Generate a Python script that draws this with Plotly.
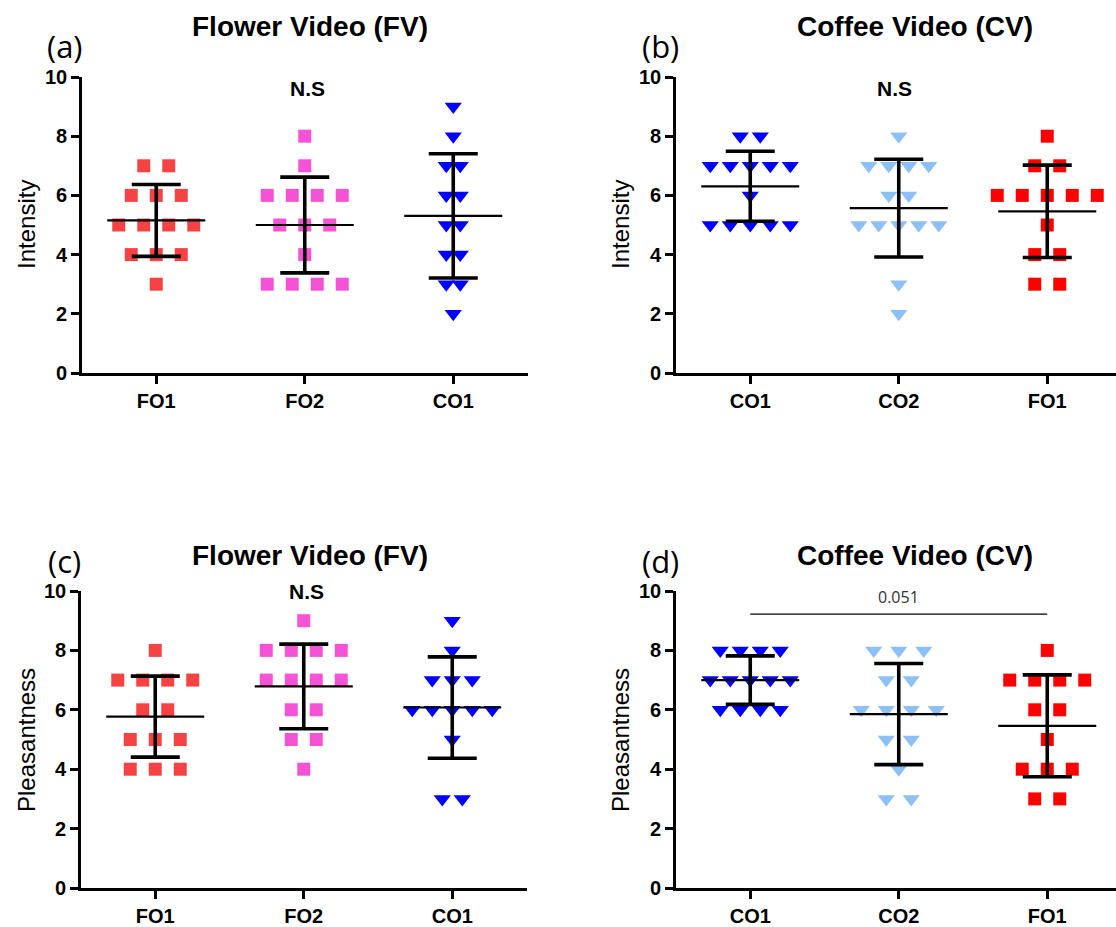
import numpy as np
import plotly.graph_objects as go

W, H = 1116, 927

# ---------------- data ----------------
categories_flower = ["FO1", "FO2", "CO1"]
categories_coffee = ["CO1", "CO2", "FO1"]
ytick_vals = [0, 2, 4, 6, 8, 10]

# (a) Flower video - intensity
a_FO1 = [7, 7, 6, 6, 6, 5, 5, 5, 5, 4, 4, 4, 3]
a_FO2 = [8, 7, 6, 6, 6, 6, 5, 5, 5, 4, 3, 3, 3, 3]
a_CO1 = [9, 8, 7, 7, 6, 6, 5, 5, 4, 4, 3, 3, 2]
# (b) Coffee video - intensity
b_CO1 = [8, 8, 7, 7, 7, 7, 7, 6, 5, 5, 5, 5, 5]
b_CO2 = [8, 7, 7, 7, 7, 6, 6, 5, 5, 5, 5, 5, 3, 2]
b_FO1 = [8, 7, 7, 6, 6, 6, 6, 6, 5, 4, 4, 3, 3]
# (c) Flower video - pleasantness
c_FO1 = [8, 7, 7, 7, 7, 6, 6, 5, 5, 5, 4, 4, 4]
c_FO2 = [9, 8, 8, 8, 8, 7, 7, 7, 7, 6, 6, 5, 5, 4]
c_CO1 = [9, 8, 7, 7, 7, 6, 6, 6, 6, 6, 5, 3, 3]
# (d) Coffee video - pleasantness
d_CO1 = [8, 8, 8, 8, 7, 7, 7, 7, 7, 6, 6, 6, 6]
d_CO2 = [8, 8, 8, 7, 7, 6, 6, 6, 6, 5, 5, 4, 3, 3]
d_FO1 = [8, 7, 7, 7, 7, 6, 6, 5, 4, 4, 4, 3, 3]

p_value_d = "0.051"

# ---------------- styles ----------------
RED_L = "#F54343"
MAG = "#F553D6"
BLUE = "#0000FF"
LBLUE = "#8DC1F5"
RED = "#FF0000"

PX_UNIT = 148.5  # pixels per category step
panels = {
    "a": dict(x0=82, x1=528, ytop=77, ybot=373),
    "b": dict(x0=676, x1=1116, ytop=77, ybot=373),
    "c": dict(x0=81, x1=527, ytop=591, ybot=888),
    "d": dict(x0=676, x1=1116, ytop=591, ybot=888),
}

groups = {
    "a": [(a_FO1, RED_L, "square", 25), (a_FO2, MAG, "square", 25), (a_CO1, BLUE, "triangle-down", 14)],
    "b": [(b_CO1, BLUE, "triangle-down", 20), (b_CO2, LBLUE, "triangle-down", 20), (b_FO1, RED, "square", 25)],
    "c": [(c_FO1, RED_L, "square", 25), (c_FO2, MAG, "square", 25), (c_CO1, BLUE, "triangle-down", 20)],
    "d": [(d_CO1, BLUE, "triangle-down", 20), (d_CO2, LBLUE, "triangle-down", 25), (d_FO1, RED, "square", 25)],
}
cats = {"a": categories_flower, "b": categories_coffee, "c": categories_flower, "d": categories_coffee}
ytitles = {"a": "Intensity", "b": "Intensity", "c": "Pleasantness", "d": "Pleasantness"}
titles = {"a": "Flower Video (FV)", "b": "Coffee Video (CV)", "c": "Flower Video (FV)", "d": "Coffee Video (CV)"}

fig = go.Figure()
AX = {"a": ("x", "y"), "b": ("x2", "y2"), "c": ("x3", "y3"), "d": ("x4", "y4")}


def swarm_x(values, center, spacing_px):
    vals = np.array(values, dtype=float)
    xs = np.zeros(len(vals))
    for v in np.unique(vals):
        idx = np.where(vals == v)[0]
        n = len(idx)
        offs = (np.arange(n) - (n - 1) / 2) * spacing_px / PX_UNIT
        xs[idx] = center + offs
    return xs


for key, glist in groups.items():
    xa, ya = AX[key]
    for i, (vals, col, sym, sp) in enumerate(glist):
        xs = swarm_x(vals, i, sp)
        fig.add_trace(go.Scatter(
            x=xs, y=vals, mode="markers", xaxis=xa, yaxis=ya,
            marker=dict(symbol=sym, color=col, size=13 if sym == "square" else 15,
                        line=dict(width=0)),
            showlegend=False, hoverinfo="skip"))
    for i, (vals, col, sym, sp) in enumerate(glist):
        m = float(np.mean(vals))
        s = float(np.std(vals, ddof=1))
        fig.add_trace(go.Scatter(
            x=[i - 0.33, i + 0.33], y=[m, m], mode="lines", xaxis=xa, yaxis=ya,
            line=dict(color="black", width=2.2), showlegend=False, hoverinfo="skip"))
        fig.add_trace(go.Scatter(
            x=[i, i, None, i - 0.165, i + 0.165, None, i - 0.165, i + 0.165],
            y=[m - s, m + s, None, m + s, m + s, None, m - s, m - s],
            mode="lines", xaxis=xa, yaxis=ya,
            line=dict(color="black", width=3.6), showlegend=False, hoverinfo="skip"))

# significance bar in (d)
fig.add_trace(go.Scatter(x=[0, 2], y=[9.22, 9.22], mode="lines", xaxis="x4", yaxis="y4",
                         line=dict(color="black", width=1.3), showlegend=False, hoverinfo="skip"))

TICKFONT = dict(family="Liberation Sans, Arial", size=20, color="black", weight="bold")
layout = dict(width=W, height=H, margin=dict(l=0, r=0, t=0, b=0, pad=0),
              paper_bgcolor="white", plot_bgcolor="white", showlegend=False,
              template="none")

for j, key in enumerate(["a", "b", "c", "d"]):
    p = panels[key]
    sfx = "" if j == 0 else str(j + 1)
    rng_hi = -0.5 + (p["x1"] - p["x0"]) / PX_UNIT
    layout["xaxis" + sfx] = dict(
        domain=[p["x0"] / W, p["x1"] / W], range=[-0.5, rng_hi],
        anchor="y" + sfx, tickvals=[0, 1, 2], ticktext=cats[key],
        showline=True, linecolor="black", linewidth=2.6, ticks="outside",
        ticklen=8, tickwidth=2.6, tickcolor="black", showgrid=False, zeroline=False,
        tickfont=TICKFONT, fixedrange=True, automargin=False)
    layout["yaxis" + sfx] = dict(
        domain=[1 - p["ybot"] / H, 1 - p["ytop"] / H], range=[0, 10],
        anchor="x" + sfx, tickvals=ytick_vals,
        showline=True, linecolor="black", linewidth=2.6, ticks="outside",
        ticklen=8, tickwidth=2.6, tickcolor="black", showgrid=False, zeroline=False,
        tickfont=TICKFONT, fixedrange=True, automargin=False)

fig.update_layout(**layout)

annos = []
title_pos = {"a": (310, 27), "b": (915, 27), "c": (310, 555), "d": (915, 555)}
letter_pos = {"a": (65, 46), "b": (660, 46), "c": (64, 561), "d": (660, 561)}
ytitle_pos = {"a": (26, 225), "b": (620, 225), "c": (26, 740), "d": (620, 740)}
for key in ["a", "b", "c", "d"]:
    tx, ty = title_pos[key]
    annos.append(dict(x=tx / W, y=1 - ty / H, xref="paper", yref="paper", text=titles[key],
                      showarrow=False, xanchor="center", yanchor="middle",
                      font=dict(family="Liberation Sans, Arial", size=28, color="black", weight="bold")))
    lx, ly = letter_pos[key]
    annos.append(dict(x=lx / W, y=1 - ly / H, xref="paper", yref="paper", text="(" + key + ")",
                      showarrow=False, xanchor="center", yanchor="middle",
                      font=dict(family="Open Sans", size=31, color="black")))
    yx, yy = ytitle_pos[key]
    annos.append(dict(x=yx / W, y=1 - yy / H, xref="paper", yref="paper", text=ytitles[key],
                      showarrow=False, xanchor="center", yanchor="middle", textangle=-90,
                      font=dict(family="Liberation Sans, Arial", size=24, color="black")))

NS_FONT = dict(family="Liberation Sans, Arial", size=21, color="black", weight="bold")
annos.append(dict(x=1.02, y=9.6, xref="x", yref="y", text="N.S", showarrow=False, font=NS_FONT))
annos.append(dict(x=0.97, y=9.6, xref="x2", yref="y2", text="N.S", showarrow=False, font=NS_FONT))
annos.append(dict(x=1.02, y=9.97, xref="x3", yref="y3", text="N.S", showarrow=False, font=NS_FONT))
annos.append(dict(x=1.0, y=9.8, xref="x4", yref="y4", text=p_value_d, showarrow=False,
                  font=dict(family="Open Sans", size=16, color="#333333")))
fig.update_layout(annotations=annos)

fig.write_html("out.html", config={"displayModeBar": False},
               post_script="document.body.style.margin='0';document.body.style.overflow='hidden';")
